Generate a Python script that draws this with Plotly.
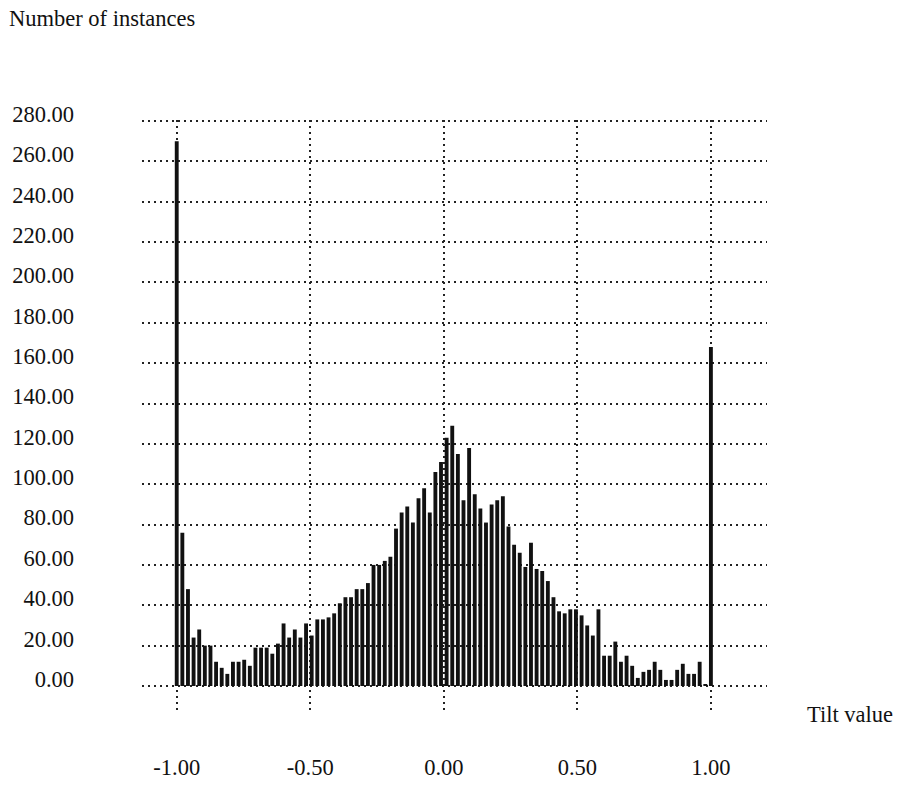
import numpy as np
import plotly.graph_objects as go

# Histogram of tilt values: counts per bin, bins evenly spaced from -1 to 1
counts = [270, 76, 48, 24, 28, 20, 20, 12, 9, 6,
          12, 12, 13, 10, 19, 19, 19, 16, 21, 31,
          24, 28, 24, 31, 25, 33, 33, 34, 36, 41,
          44, 44, 48, 48, 51, 60, 60, 62, 64, 78,
          86, 89, 81, 93, 98, 86, 106, 111, 123, 129,
          115, 92, 118, 95, 88, 81, 90, 92, 94, 79,
          70, 66, 59, 71, 58, 57, 52, 44, 37, 36,
          38, 38, 35, 30, 25, 38, 15, 15, 22, 12,
          15, 10, 4, 7, 8, 12, 8, 3, 3, 8,
          11, 6, 6, 12, 1, 168]
bin_start = -1.0
bin_end = 1.0
x_ticks = [-1.0, -0.5, 0.0, 0.5, 1.0]
x_tick_labels = ["-1.00", "-0.50", "0.00", "0.50", "1.00"]
y_ticks = list(range(0, 281, 20))

x_vals = np.linspace(bin_start, bin_end, len(counts))

FONT = "Liberation Serif, Times New Roman, serif"
FS = 22.5

fig = go.Figure(go.Bar(
    x=x_vals, y=counts, width=0.0145,
    marker=dict(color="#111111", line=dict(width=0)),
))

fig.update_layout(
    width=899, height=807,
    margin=dict(l=142, r=132, t=119.7, b=97),
    paper_bgcolor="white", plot_bgcolor="white",
    showlegend=False,
    font=dict(family=FONT, size=FS, color="#111111"),
)

fig.update_xaxes(
    range=[-1.13, 1.21],
    tickvals=x_ticks, ticktext=x_tick_labels,
    showgrid=True, gridcolor="#222222", gridwidth=2, griddash="2px,4px",
    zeroline=False, showline=False, ticks="",
    ticklabelstandoff=41,
)
fig.update_yaxes(
    range=[-11.9, 280.5],
    tickvals=y_ticks, tickformat=".2f",
    showgrid=True, gridcolor="#222222", gridwidth=2, griddash="2px,4px",
    zeroline=False, showline=False, ticks="",
    ticklabelstandoff=67, ticklabelshift=-7,
)

fig.add_annotation(text="Number of instances", xref="paper", yref="paper",
                   x=-135/625, y=1 + (119.7 - 18) / 590.3, xanchor="left", yanchor="middle",
                   showarrow=False, font=dict(family=FONT, size=FS))
fig.add_annotation(text="Tilt value", xref="paper", yref="paper",
                   x=(895 - 142) / 625, y=(807 - 97 - 715) / 590.3, xanchor="right", yanchor="middle",
                   showarrow=False, font=dict(family=FONT, size=FS))

fig.write_html("out.html", config={"displayModeBar": False},
               post_script="document.body.style.margin='0';document.body.style.overflow='hidden';")
